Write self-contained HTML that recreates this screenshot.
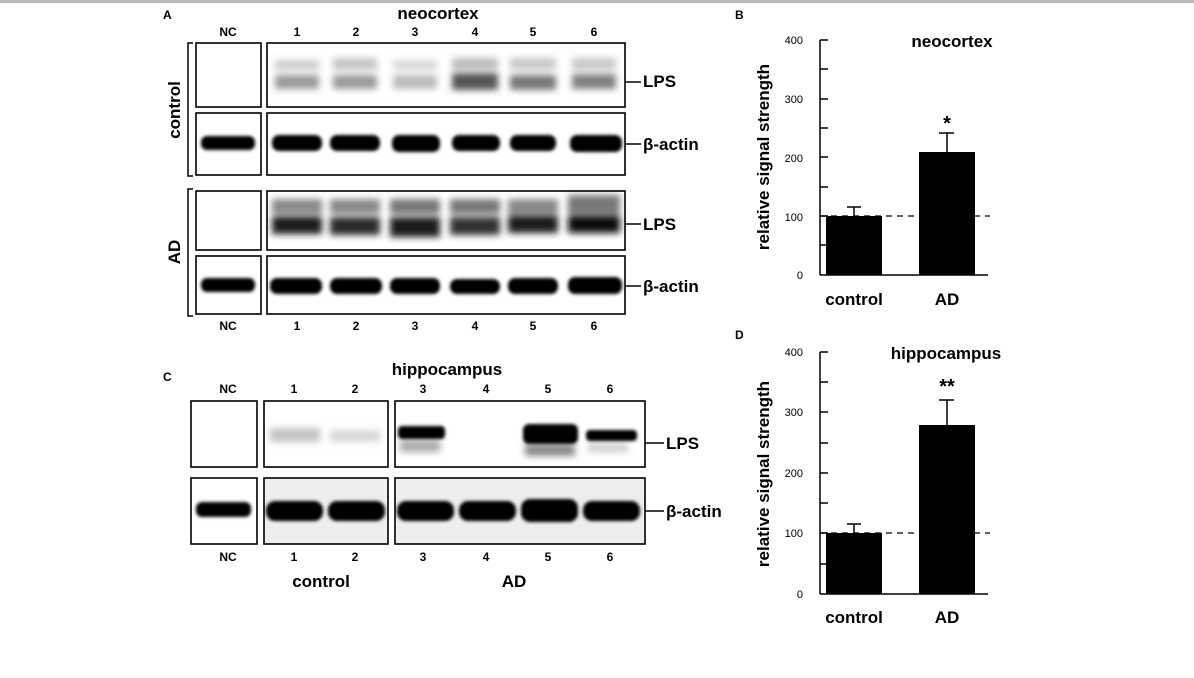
<!DOCTYPE html>
<html><head><meta charset="utf-8"><style>
html,body{margin:0;padding:0;background:#fff;width:1194px;height:678px;overflow:hidden}
svg{display:block;font-family:"Liberation Sans",Arial,sans-serif}
</style></head><body>
<svg width="1194" height="678" viewBox="0 0 1194 678" xmlns="http://www.w3.org/2000/svg">
<defs>
<filter id="b1" x="-20%" y="-50%" width="140%" height="200%"><feGaussianBlur stdDeviation="1.5"/></filter>
<filter id="b3" x="-20%" y="-80%" width="140%" height="260%"><feGaussianBlur stdDeviation="3.5"/></filter>
</defs>
<rect x="0" y="0" width="1194" height="3" fill="#bbb"/>

<!-- Panel A -->
<g font-weight="bold" fill="#000">
<text x="163" y="19" font-size="12">A</text>
<text x="438" y="19" font-size="17" text-anchor="middle">neocortex</text>
<g font-size="12" text-anchor="middle">
<text x="228" y="36">NC</text><text x="297" y="36">1</text><text x="356" y="36">2</text><text x="415" y="36">3</text><text x="475" y="36">4</text><text x="533" y="36">5</text><text x="594" y="36">6</text>
<text x="228" y="330">NC</text><text x="297" y="330">1</text><text x="356" y="330">2</text><text x="415" y="330">3</text><text x="475" y="330">4</text><text x="533" y="330">5</text><text x="594" y="330">6</text>
</g>
<text transform="translate(180,110) rotate(-90)" font-size="17" text-anchor="middle">control</text>
<text transform="translate(180,252) rotate(-90)" font-size="17" text-anchor="middle">AD</text>
<g font-size="17"><text x="643" y="87">LPS</text><text x="643" y="150">β-actin</text><text x="643" y="230">LPS</text><text x="643" y="292">β-actin</text></g>
</g>
<g stroke="#000" fill="none" stroke-width="1.5">
<path d="M193 43 H188 V176 H193"/><path d="M193 189 H188 V316 H193"/>
<line x1="625" y1="82" x2="641" y2="82"/><line x1="625" y1="144" x2="641" y2="144"/>
<line x1="625" y1="224" x2="641" y2="224"/><line x1="625" y1="286" x2="641" y2="286"/>
</g>
<g filter="url(#b3)">
<rect x="275" y="60" width="44" height="10" fill="#ccc"/><rect x="333" y="58" width="44" height="12" fill="#c4c4c4"/><rect x="393" y="60" width="44" height="10" fill="#d8d8d8"/><rect x="452" y="58" width="46" height="12" fill="#bbb"/><rect x="510" y="58" width="46" height="12" fill="#c8c8c8"/><rect x="572" y="58" width="44" height="12" fill="#c8c8c8"/>
<rect x="275" y="75" width="44" height="14" fill="#999"/><rect x="333" y="75" width="44" height="14" fill="#999"/><rect x="393" y="75" width="44" height="14" fill="#bbb"/><rect x="452" y="73" width="46" height="17" fill="#555"/><rect x="510" y="75" width="46" height="15" fill="#777"/><rect x="572" y="74" width="44" height="15" fill="#808080"/>
</g>
<g filter="url(#b3)">
<rect x="272" y="199" width="50" height="15" fill="#888"/><rect x="330" y="199" width="50" height="15" fill="#888"/><rect x="390" y="199" width="50" height="15" fill="#777"/><rect x="450" y="199" width="50" height="15" fill="#777"/><rect x="508" y="199" width="50" height="15" fill="#888"/><rect x="568" y="195" width="52" height="19" fill="#777"/>
<rect x="272" y="216" width="50" height="18" fill="#1a1a1a"/><rect x="330" y="217" width="50" height="18" fill="#2a2a2a"/><rect x="390" y="217" width="50" height="20" fill="#1a1a1a"/><rect x="450" y="217" width="50" height="18" fill="#333"/><rect x="508" y="215" width="50" height="18" fill="#1a1a1a"/><rect x="568" y="215" width="52" height="18" fill="#111"/>
</g>
<g fill="#000" filter="url(#b1)">
<rect x="201" y="136" width="54" height="14" rx="6"/>
<rect x="272" y="135" width="50" height="16" rx="7"/><rect x="330" y="135" width="50" height="16" rx="7"/><rect x="392" y="135" width="48" height="17" rx="7"/><rect x="452" y="135" width="48" height="16" rx="7"/><rect x="510" y="135" width="46" height="16" rx="7"/><rect x="570" y="135" width="52" height="17" rx="7"/>
<rect x="201" y="278" width="54" height="14" rx="6"/>
<rect x="270" y="278" width="52" height="16" rx="7"/><rect x="330" y="278" width="52" height="16" rx="7"/><rect x="390" y="278" width="50" height="16" rx="7"/><rect x="450" y="279" width="50" height="15" rx="7"/><rect x="508" y="278" width="50" height="16" rx="7"/><rect x="568" y="277" width="54" height="17" rx="7"/>
</g>
<g stroke="#000" fill="none" stroke-width="1.6">
<rect x="196" y="43" width="65" height="64"/><rect x="196" y="113" width="65" height="62"/>
<rect x="267" y="43" width="358" height="64"/><rect x="267" y="113" width="358" height="62"/>
<rect x="196" y="191" width="65" height="59"/><rect x="196" y="256" width="65" height="58"/>
<rect x="267" y="191" width="358" height="59"/><rect x="267" y="256" width="358" height="58"/>
</g>

<!-- Panel C -->
<rect x="264" y="478" width="124" height="66" fill="#eee"/><rect x="395" y="478" width="250" height="66" fill="#eee"/>
<g filter="url(#b3)">
<rect x="270" y="428" width="50" height="14" fill="#c4c4c4"/><rect x="330" y="430" width="50" height="12" fill="#d8d8d8"/>
<rect x="400" y="440" width="40" height="12" fill="#aaa"/><rect x="525" y="444" width="50" height="12" fill="#888"/><rect x="588" y="444" width="40" height="8" fill="#ccc"/>
</g>
<g fill="#000" filter="url(#b1)">
<rect x="398" y="426" width="47" height="13" rx="4"/>
<rect x="523" y="424" width="55" height="20" rx="6"/>
<rect x="586" y="430" width="51" height="11" rx="4"/>
<rect x="196" y="502" width="55" height="15" rx="6"/>
<rect x="266" y="501" width="57" height="20" rx="9"/><rect x="328" y="501" width="57" height="20" rx="9"/>
<rect x="397" y="501" width="57" height="20" rx="9"/><rect x="459" y="501" width="57" height="20" rx="9"/><rect x="521" y="499" width="57" height="23" rx="9"/><rect x="583" y="501" width="57" height="20" rx="9"/>
</g>
<g stroke="#000" fill="none" stroke-width="1.6">
<rect x="191" y="401" width="66" height="66"/><rect x="191" y="478" width="66" height="66"/>
<rect x="264" y="401" width="124" height="66"/><rect x="264" y="478" width="124" height="66"/>
<rect x="395" y="401" width="250" height="66"/><rect x="395" y="478" width="250" height="66"/>
<line x1="645" y1="443" x2="664" y2="443"/><line x1="645" y1="511" x2="664" y2="511"/>
</g>
<g font-weight="bold" fill="#000">
<text x="163" y="381" font-size="12">C</text>
<text x="447" y="375" font-size="17" text-anchor="middle">hippocampus</text>
<g font-size="12" text-anchor="middle">
<text x="228" y="393">NC</text><text x="294" y="393">1</text><text x="355" y="393">2</text><text x="423" y="393">3</text><text x="486" y="393">4</text><text x="548" y="393">5</text><text x="610" y="393">6</text>
<text x="228" y="561">NC</text><text x="294" y="561">1</text><text x="355" y="561">2</text><text x="423" y="561">3</text><text x="486" y="561">4</text><text x="548" y="561">5</text><text x="610" y="561">6</text>
</g>
<g font-size="17"><text x="666" y="449">LPS</text><text x="666" y="517">β-actin</text>
<text x="321" y="587" text-anchor="middle">control</text><text x="514" y="587" text-anchor="middle">AD</text></g>
</g>

<!-- Panel B -->
<g fill="#000">
<text x="735" y="19" font-size="12" font-weight="bold">B</text>
<text x="952" y="47" font-size="17" font-weight="bold" text-anchor="middle">neocortex</text>
<g font-size="11" text-anchor="end"><text x="803" y="44">400</text><text x="803" y="103">300</text><text x="803" y="162">200</text><text x="803" y="221">100</text><text x="803" y="279">0</text></g>
<text transform="translate(769,157) rotate(-90)" font-size="17" font-weight="bold" text-anchor="middle">relative signal strength</text>
<text x="854" y="305" font-size="17" font-weight="bold" text-anchor="middle">control</text>
<text x="947" y="305" font-size="17" font-weight="bold" text-anchor="middle">AD</text>
<text x="947" y="130" font-size="20" font-weight="bold" text-anchor="middle">*</text>
<rect x="826" y="216" width="56" height="59"/>
<rect x="919" y="152" width="56" height="123"/>
</g>
<g stroke="#000" stroke-width="1.5" fill="none">
<line x1="820" y1="40" x2="820" y2="275"/><line x1="820" y1="275" x2="988" y2="275"/>
<path d="M820 40h8M820 69h8M820 99h8M820 128h8M820 157h8M820 187h8M820 216h8M820 245h8"/>
<path d="M854 216V207M847 207h14M947 152V133M939 133h15"/>
<line x1="820" y1="216" x2="990" y2="216" stroke-dasharray="6,5" stroke-width="1.2"/>
</g>

<!-- Panel D -->
<g fill="#000">
<text x="735" y="339" font-size="12" font-weight="bold">D</text>
<text x="946" y="359" font-size="17" font-weight="bold" text-anchor="middle">hippocampus</text>
<g font-size="11" text-anchor="end"><text x="803" y="356">400</text><text x="803" y="416">300</text><text x="803" y="477">200</text><text x="803" y="537">100</text><text x="803" y="598">0</text></g>
<text transform="translate(769,474) rotate(-90)" font-size="17" font-weight="bold" text-anchor="middle">relative signal strength</text>
<text x="854" y="623" font-size="17" font-weight="bold" text-anchor="middle">control</text>
<text x="947" y="623" font-size="17" font-weight="bold" text-anchor="middle">AD</text>
<text x="947" y="393" font-size="20" font-weight="bold" text-anchor="middle">**</text>
<rect x="826" y="533" width="56" height="61"/>
<rect x="919" y="425" width="56" height="169"/>
</g>
<g stroke="#000" stroke-width="1.5" fill="none">
<line x1="820" y1="352" x2="820" y2="594"/><line x1="820" y1="594" x2="988" y2="594"/>
<path d="M820 352h8M820 382h8M820 412h8M820 443h8M820 473h8M820 503h8M820 533h8M820 564h8"/>
<path d="M854 533V524M847 524h14M947 425V400M939 400h15"/>
<line x1="820" y1="533" x2="990" y2="533" stroke-dasharray="6,5" stroke-width="1.2"/>
</g>
</svg>
</body></html>
